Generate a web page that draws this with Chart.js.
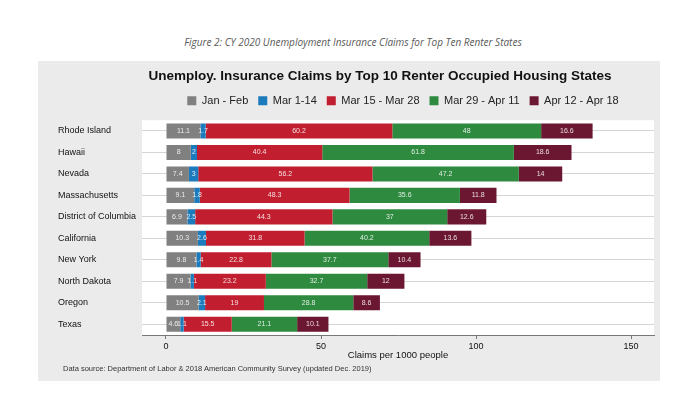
<!DOCTYPE html>
<html>
<head>
<meta charset="utf-8">
<script src="https://cdn.jsdelivr.net/npm/chart.js@4.4.1/dist/chart.umd.min.js"></script>
<style>
  body { margin: 0; background: #fff; width: 691px; height: 408px; position: relative; overflow: hidden; }
  #caption {
    position: absolute; top: 35px; left: 353px; transform: translateX(-50%);
    white-space: nowrap; font: italic 10px "Open Sans", sans-serif; color: #595959;
  }
  #panel {
    position: absolute; left: 38px; top: 61px; width: 622px; height: 320px; background: #ebebeb;
  }
  #source {
    position: absolute; left: 63px; top: 364px; white-space: nowrap;
    font: 7.5px "Liberation Sans", Arial, sans-serif; color: #333;
  }
</style>
</head>
<body>
<div id="caption">Figure 2: CY 2020 Unemployment Insurance Claims for Top Ten Renter States</div>
<div id="panel"><canvas id="claimsChart"></canvas></div>
<div id="source">Data source: Department of Labor &amp; 2018 American Community Survey (updated Dec. 2019)</div>
<script>
const states = ["Rhode Island", "Hawaii", "Nevada", "Massachusetts", "District of Columbia",
    "California", "New York", "North Dakota", "Oregon", "Texas"];
const periods = ["Jan - Feb", "Mar 1-14", "Mar 15 - Mar 28", "Mar 29 - Apr 11", "Apr 12 - Apr 18"];

const janFeb = [11.1, 8, 7.4, 9.1, 6.9, 10.3, 9.8, 7.9, 10.5, 4.6];
const mar1to14 = [1.7, 2, 3, 1.8, 2.5, 2.6, 1.4, 1.1, 2.1, 1.1];
const mar15to28 = [60.2, 40.4, 56.2, 48.3, 44.3, 31.8, 22.8, 23.2, 19, 15.5];
const mar29toApr11 = [48, 61.8, 47.2, 35.6, 37, 40.2, 37.7, 32.7, 28.8, 21.1];
const apr12to18 = [16.6, 18.6, 14, 11.8, 12.6, 13.6, 10.4, 12, 8.6, 10.1];

const xTicks = [0, 50, 100, 150];

const colors = ["#808080", "#1b7bbd", "#c11f2f", "#2e8a3f", "#6b1732"];
const font = '"Liberation Sans", Arial, sans-serif';

// white plot region inside the grey panel
const plotBackground = {
    id: "plotBackground",
    beforeDraw(chart) {
        const { ctx, chartArea } = chart;
        ctx.save();
        ctx.fillStyle = "#ffffff";
        ctx.fillRect(chartArea.left, chartArea.top, chartArea.right - chartArea.left, chartArea.bottom - chartArea.top);
        ctx.restore();
    },
};

// numbers written inside each segment
const valueLabels = {
    id: "valueLabels",
    afterDatasetsDraw(chart) {
        const ctx = chart.ctx;
        ctx.save();
        ctx.font = "7px " + font;
        ctx.fillStyle = "rgba(255,255,255,0.85)";
        ctx.textAlign = "center";
        ctx.textBaseline = "middle";
        chart.data.datasets.forEach((ds, i) => {
            chart.getDatasetMeta(i).data.forEach((bar, j) => {
                ctx.fillText(String(ds.data[j]), (bar.x + bar.base) / 2, bar.y);
            });
        });
        ctx.restore();
    },
};

// legend height + horizontal placement of title / legend
const headerLayout = {
    id: "headerLayout",
    beforeInit(chart) {
        const fit = chart.legend.fit;
        chart.legend.fit = function () {
            fit.call(this);
            this.height = 33;
        };
    },
    afterLayout(chart) {
        chart.titleBlock.left += 24;
        chart.titleBlock.right += 24;
        chart.legend.left += 47;
        chart.legend.right += 47;
        chart.legend.top -= 2;
    },
};

const seriesData = [janFeb, mar1to14, mar15to28, mar29toApr11, apr12to18];

new Chart(document.getElementById("claimsChart").getContext("2d"), {
    type: "bar",
    data: {
        labels: states,
        datasets: periods.map((p, i) => ({
            label: p,
            data: seriesData[i],
            backgroundColor: colors[i],
            borderWidth: 0,
            barPercentage: 0.7,
            categoryPercentage: 1,
        })),
    },
    options: {
        indexAxis: "y",
        responsive: true,
        maintainAspectRatio: false,
        animation: false,
        layout: {
            padding: { left: 20, right: 6, top: 0, bottom: 20 },
        },
        plugins: {
            title: {
                display: true,
                text: "Unemploy. Insurance Claims by Top 10 Renter Occupied Housing States",
                color: "#111",
                font: { family: font, size: 13.5, weight: "bold" },
                padding: { top: 7, bottom: 3 },
            },
            legend: {
                position: "top",
                labels: {
                    boxWidth: 9,
                    boxHeight: 9,
                    padding: 10,
                    color: "#222",
                    font: { family: font, size: 11 },
                },
            },
            tooltip: { enabled: false },
        },
        scales: {
            x: {
                stacked: true,
                min: -7.74,
                max: 157.4,
                afterBuildTicks(scale) {
                    scale.ticks = xTicks.map((v) => ({ value: v }));
                },
                afterFit(scale) {
                    scale.height = 26;
                },
                grid: {
                    drawOnChartArea: false,
                    drawTicks: true,
                    tickLength: 4,
                    color: "#777",
                },
                border: { display: true, color: "#777" },
                ticks: {
                    padding: 2,
                    color: "#111",
                    font: { family: font, size: 9 },
                },
                title: {
                    display: true,
                    text: "Claims per 1000 people",
                    color: "#111",
                    font: { family: font, size: 9.5 },
                    padding: { top: 0, bottom: 0 },
                },
            },
            y: {
                stacked: true,
                afterFit(scale) {
                    scale.width = 84;
                },
                grid: {
                    offset: false,
                    drawTicks: false,
                    color: "#d4d4d4",
                },
                border: { display: false },
                ticks: {
                    crossAlign: "far",
                    color: "#111",
                    font: { family: font, size: 9 },
                },
            },
        },
    },
    plugins: [plotBackground, valueLabels, headerLayout],
});
</script>
</body>
</html>
